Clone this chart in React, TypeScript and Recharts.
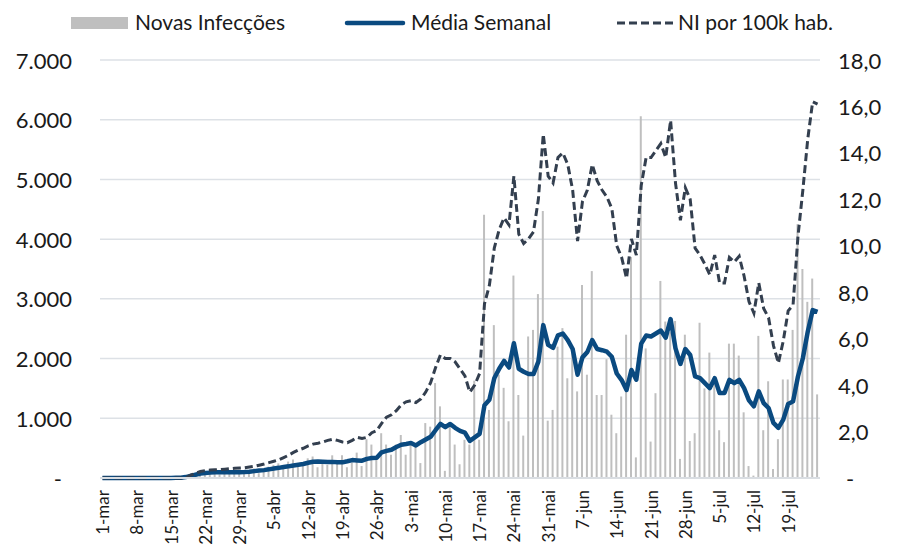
import { ComposedChart, Bar, Line, XAxis, YAxis, CartesianGrid } from 'recharts';

// daily categories, 1-mar to 25-jul
const months: [string, number][] = [['mar', 31], ['abr', 30], ['mai', 31], ['jun', 30], ['jul', 25]];
const days = months.flatMap(([m, n]) => Array.from({ length: n }, (_, i) => `${i + 1}-${m}`));

const novasInfeccoes = [
  0, 0, 0, 0, 0, 0, 0, 0, 0, 2,
  1, 4, 3, 6, 10, 8, 12, 40, 60, 80,
  70, 110, 150, 120, 60, 110, 90, 80, 140, 90,
  130, 160, 80, 135, 190, 220, 245, 180, 275, 310,
  230, 260, 330, 360, 180, 300, 220, 380, 300, 380,
  180, 260, 425, 200, 650, 560, 330, 750, 560, 390,
  560, 720, 390, 560, 560, 250, 920, 860, 1590, 1200,
  120, 890, 560, 230, 640, 560, 1630, 640, 4410, 1140,
  2560, 1730, 1510, 950, 3390, 1390, 710, 2370, 2480, 3080,
  4470, 960, 1140, 2200, 2510, 1670, 2180, 1450, 3230, 1730,
  3465, 1390, 1390, 1990, 1060, 750, 1365, 2400, 3700, 345,
  6060, 2170, 610, 1420, 3300, 2620, 2440, 2630, 320, 2400,
  620, 750, 2600, 1500, 2100, 1700, 800, 600, 2250, 2250,
  2050, 1100, 200, 40, 2380, 800, 1620, 150, 650, 1650,
  1650, 2480, 4250, 3500, 2950, 3340, 1400,
];

const mediaSemanal = [
  0, 0, 0, 0, 0, 0, 0, 0, 0, 0,
  0, 0, 1, 1, 2, 3, 4, 15, 35, 55,
  75, 85, 90, 95, 95, 95, 95, 95, 98, 100,
  105, 115, 125, 132, 145, 160, 170, 185, 195, 210,
  222, 235, 255, 272, 275, 272, 270, 270, 265, 262,
  280, 300, 295, 290, 320, 335, 340, 430, 455, 474,
  520, 557, 570, 585, 545, 600, 645, 690, 800, 905,
  850, 905, 840, 790, 760, 620, 680, 740, 1220, 1310,
  1670, 1830, 1960, 1850, 2256, 1830, 1780, 1740, 1740, 1950,
  2560, 2230, 2180, 2390, 2420, 2310, 2160, 1730, 2020, 2110,
  2310, 2160, 2140, 2115, 2030, 1750, 1640, 1475, 1810, 1645,
  2250, 2385, 2370, 2420, 2470, 2350, 2660, 2170, 1910, 2160,
  2060, 1700, 1672, 1589, 1505, 1672, 1422, 1422, 1644, 1589,
  1644, 1505, 1300, 1200, 1450, 1255, 1172, 922, 839, 978,
  1239, 1283, 1700, 2005, 2450, 2811, 2783,
];

const niPor100k = [
  0, 0, 0, 0, 0, 0, 0, 0, 0, 0,
  0, 0, 0, 0, 0, 0, 0, 0, 0.12, 0.2,
  0.28, 0.32, 0.34, 0.35, 0.36, 0.38, 0.4, 0.42, 0.43, 0.44,
  0.47, 0.5, 0.55, 0.6, 0.66, 0.72, 0.78, 0.88, 0.98, 1.1,
  1.2, 1.28, 1.38, 1.46, 1.5, 1.55, 1.62, 1.67, 1.62, 1.55,
  1.52, 1.62, 1.75, 1.7, 1.75, 1.95, 2.04, 2.35, 2.62, 2.72,
  2.9, 3.15, 3.28, 3.33, 3.25, 3.4, 3.7, 4.1, 4.75, 5.3,
  5.15, 5.15, 5.0, 4.7, 4.4, 3.7, 4.0, 4.5, 7.5, 8.3,
  9.9, 10.7, 11.2, 10.9, 13.0, 10.5, 10.1, 10.3, 10.6, 12.0,
  14.8, 13.0, 12.7, 13.8, 14.0, 13.5, 12.4, 10.2, 11.9, 12.4,
  13.5, 12.8, 12.4, 12.1, 11.6, 10.0, 9.5, 8.6, 10.3, 9.6,
  12.6, 13.8, 13.8, 14.1, 14.4, 13.8, 15.4, 12.7, 11.1, 12.5,
  12.0, 9.9, 9.6, 9.2, 8.75, 9.6, 8.4, 8.4, 9.5, 9.3,
  9.55, 8.7, 7.6, 7.1, 8.4, 7.3, 6.9, 5.7, 4.95, 5.9,
  7.2, 7.45, 10.4, 12.4, 14.6, 16.2, 16.1,
];

const leftTicks = [0, 1000, 2000, 3000, 4000, 5000, 6000, 7000];
const rightTicks = [0, 2, 4, 6, 8, 10, 12, 14, 16, 18];

const data = days.map((day, i) => ({
  day,
  novas: novasInfeccoes[i],
  media: mediaSemanal[i],
  ni: niPor100k[i],
}));

const FONT = 'Lato, "Liberation Sans", sans-serif';
const TEXT = '#1a1a1a';

// eslint-disable-next-line @typescript-eslint/no-explicit-any
function XTick({ x, y, payload }: any) {
  return (
    <text x={x} y={y + 4} transform={`rotate(-90 ${x} ${y + 4})`} textAnchor="end"
      dominantBaseline="central" fontSize={17} fill={TEXT} fontFamily={FONT}>
      {payload.value}
    </text>
  );
}

// eslint-disable-next-line @typescript-eslint/no-explicit-any
function LeftTick({ x, y, payload }: any) {
  const v = payload.value;
  const label = v === 0 ? '-' : `${v / 1000}.000`;
  return (
    <text x={v === 0 ? x - 30 : x - 20} y={y} textAnchor="end" dominantBaseline="central"
      fontSize={22} fill={TEXT} fontFamily={FONT}>
      {label}
    </text>
  );
}

// eslint-disable-next-line @typescript-eslint/no-explicit-any
function RightTick({ x, y, payload }: any) {
  const v = payload.value;
  const label = v === 0 ? '-' : v.toFixed(1).replace('.', ',');
  return (
    <text x={v === 0 ? x + 18 : x + 10} y={y} textAnchor="start" dominantBaseline="central"
      fontSize={22} fill={TEXT} fontFamily={FONT}>
      {label}
    </text>
  );
}

function LegendRow() {
  return (
    <svg width={899} height={50} style={{ position: 'absolute', left: 0, top: 0 }}>
      <rect x={71} y={17} width={57} height={12} fill="#bfbfbf" />
      <text x={135} y={30} fontSize={21} fill={TEXT} fontFamily={FONT}>Novas Infecções</text>
      <line x1={347} y1={23} x2={403} y2={23} stroke="#0a4a80" strokeWidth={4.5} strokeLinecap="round" />
      <text x={411} y={30} fontSize={21} fill={TEXT} fontFamily={FONT}>Média Semanal</text>
      <line x1={617} y1={23} x2={673} y2={23} stroke="#333f4f" strokeWidth={3} strokeDasharray="8 4" />
      <text x={678} y={30} fontSize={21} fill={TEXT} fontFamily={FONT}>NI por 100k hab.</text>
    </svg>
  );
}

export default function App() {
  return (
    <div style={{ position: 'absolute', left: 0, top: 0, width: 899, height: 545, background: '#fff', overflow: 'hidden' }}>
      <ComposedChart width={899} height={545} data={data} margin={{ top: 60, right: 0, bottom: 0, left: 0 }}>
        <CartesianGrid yAxisId="left" vertical={false} stroke="#dde1e6" strokeWidth={1.5} />
        <XAxis
          dataKey="day"
          interval={6}
          height={67}
          tickLine={false}
          axisLine={{ stroke: '#d9dde2', strokeWidth: 2 }}
          tick={<XTick />}
        />
        <YAxis
          yAxisId="left"
          width={100}
          domain={[0, 7000]}
          ticks={leftTicks}
          axisLine={false}
          tickLine={false}
          tick={<LeftTick />}
        />
        <YAxis
          yAxisId="right"
          orientation="right"
          width={79}
          domain={[0, 18]}
          ticks={rightTicks}
          axisLine={false}
          tickLine={false}
          tick={<RightTick />}
        />
        <Bar yAxisId="left" dataKey="novas" fill="#bfbfbf" barSize={2} isAnimationActive={false} />
        <Line
          yAxisId="left"
          dataKey="media"
          type="linear"
          stroke="#0a4a80"
          strokeWidth={4.5}
          strokeLinejoin="round"
          dot={false}
          activeDot={false}
          isAnimationActive={false}
        />
        <Line
          yAxisId="right"
          dataKey="ni"
          type="linear"
          stroke="#333f4f"
          strokeWidth={3}
          strokeDasharray="8 4"
          dot={false}
          activeDot={false}
          isAnimationActive={false}
        />
      </ComposedChart>
      <LegendRow />
    </div>
  );
}
